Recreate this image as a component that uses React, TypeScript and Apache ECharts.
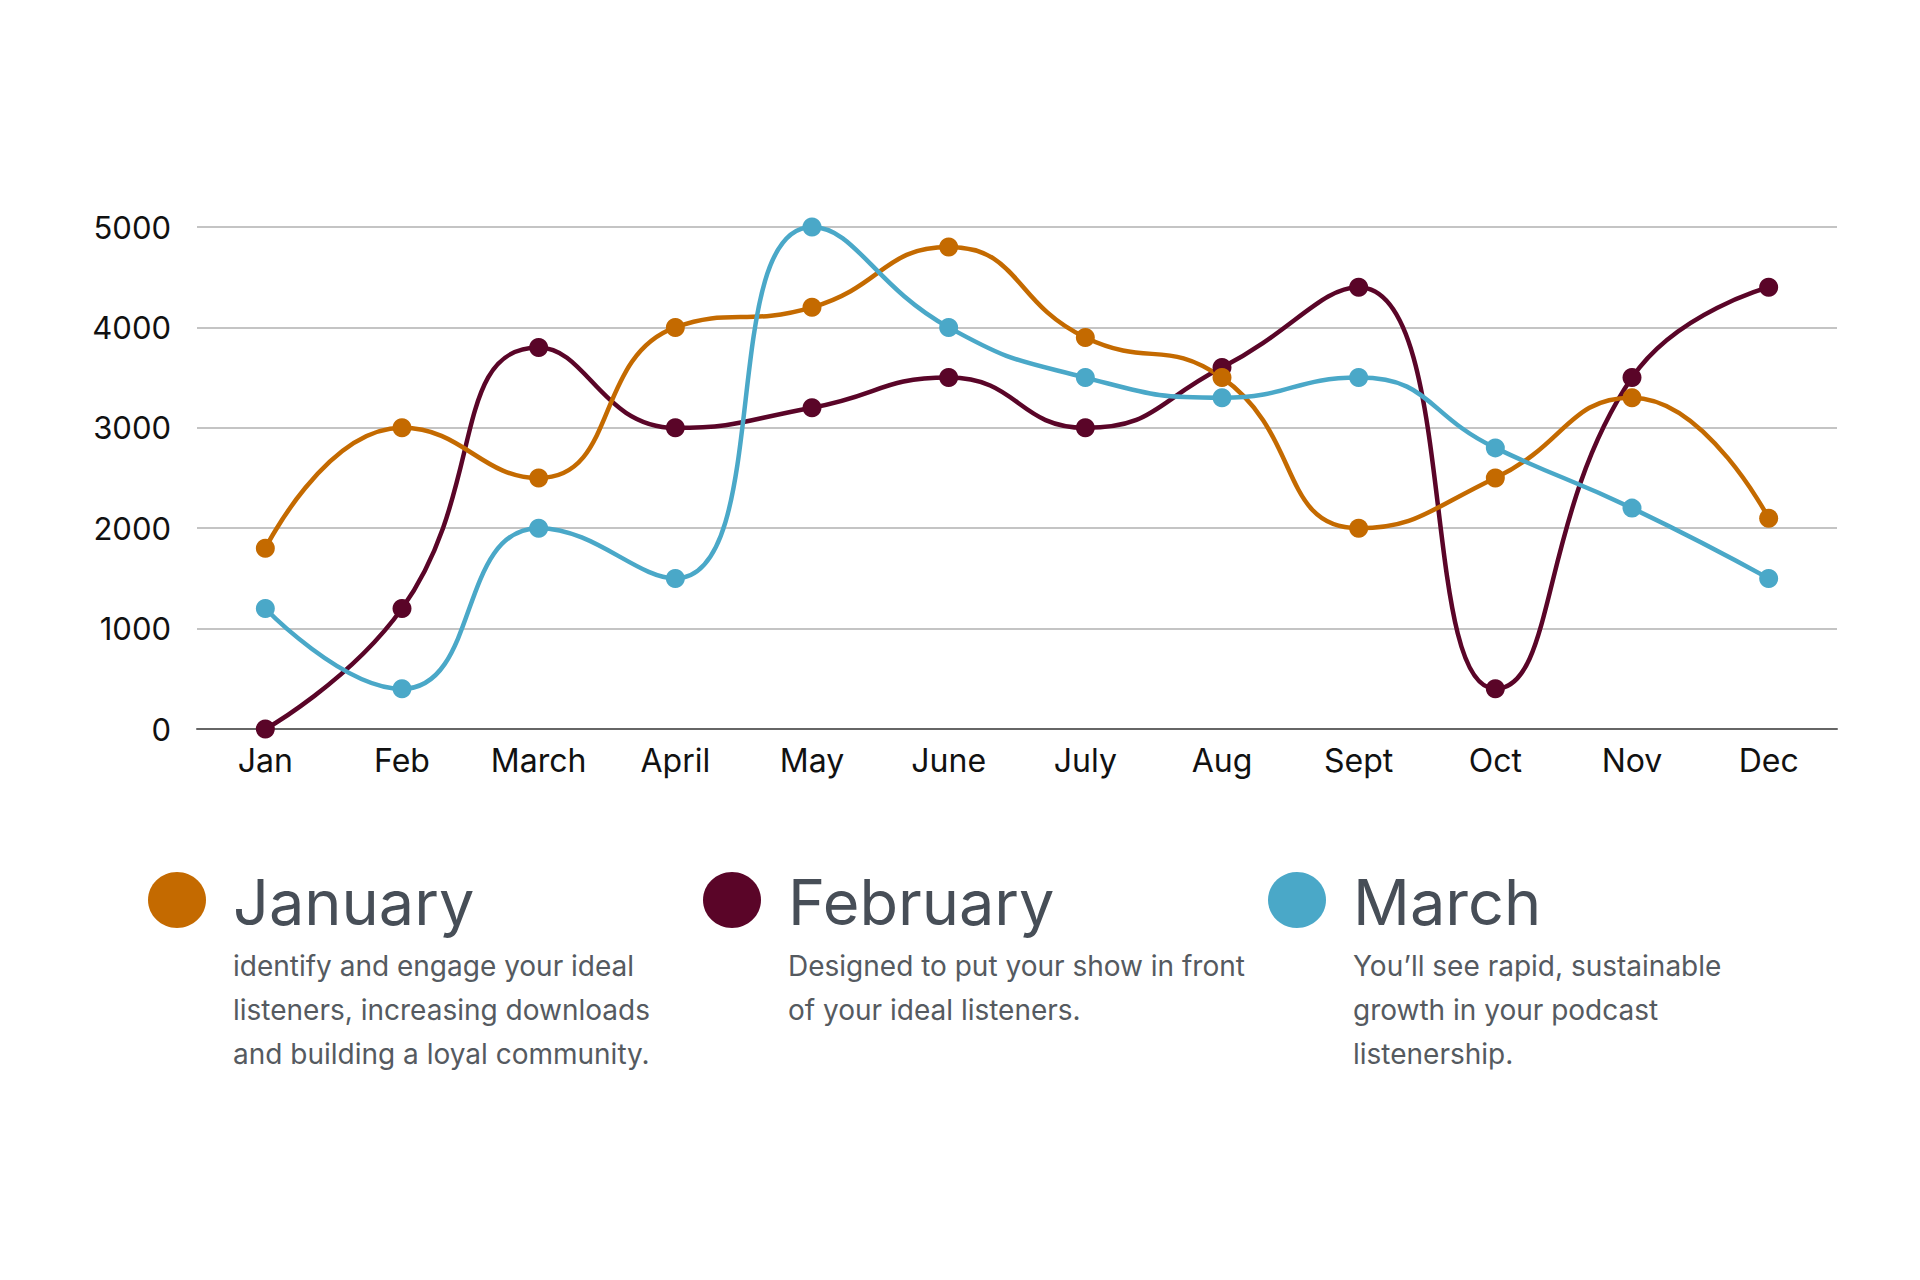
import React, { useEffect, useRef } from "react";
import * as echarts from "echarts";

const months = ["Jan", "Feb", "March", "April", "May", "June", "July", "Aug", "Sept", "Oct", "Nov", "Dec"];
const januaryValues = [1800, 3000, 2500, 4000, 4200, 4800, 3900, 3500, 2000, 2500, 3300, 2100];
const februaryValues = [0, 1200, 3800, 3000, 3200, 3500, 3000, 3600, 4400, 400, 3500, 4400];
const marchValues = [1200, 400, 2000, 1500, 5000, 4000, 3500, 3300, 3500, 2800, 2200, 1500];

const seriesNames = ["January", "February", "March"];
const seriesColors = ["#C46A00", "#5A0528", "#4AA8C8"];
const descriptions = [
  ["identify and engage your ideal", "listeners, increasing downloads", "and building a loyal community."],
  ["Designed to put your show in front", "of your ideal listeners."],
  ["You\u2019ll see rapid, sustainable", "growth in your podcast", "listenership."],
];

export default function App() {
  const ref = useRef<HTMLDivElement>(null);
  useEffect(() => {
    document.body.style.margin = "0";
    if (!ref.current) return;
    const chart = echarts.init(ref.current, undefined, { renderer: "svg" });
    const values = [januaryValues, februaryValues, marchValues];
    const order = [1, 0, 2];
    const legendX = [177, 732, 1297];
    const graphics: any[] = [];
    seriesNames.forEach((name, i) => {
      const cx = legendX[i];
      graphics.push({
        type: "ellipse",
        shape: { cx, cy: 900, rx: 29, ry: 28 },
        style: { fill: seriesColors[i] },
      });
      graphics.push({
        type: "text",
        x: cx + 56,
        y: 902,
        style: {
          text: name,
          fill: "#474E57",
          font: '63px Inter, "Noto Sans", sans-serif',
          verticalAlign: "middle",
          align: "left",
        },
      });
      descriptions[i].forEach((line, j) => {
        graphics.push({
          type: "text",
          x: cx + 56,
          y: 966 + j * 44,
          style: {
            text: line,
            fill: "#555A60",
            font: '28px Inter, "Noto Sans", sans-serif',
            verticalAlign: "middle",
            align: "left",
          },
        });
      });
    });
    chart.setOption({
      animation: false,
      backgroundColor: "#ffffff",
      textStyle: { fontFamily: 'Inter, "Noto Sans", sans-serif' },
      grid: { left: 197, right: 83, top: 227, bottom: 551, containLabel: false },
      xAxis: {
        type: "category",
        data: months,
        boundaryGap: true,
        axisLine: { show: true, lineStyle: { color: "#666666", width: 2 } },
        axisTick: { show: false },
        axisLabel: { color: "#111111", fontSize: 32, margin: 15, fontFamily: 'Inter, "Noto Sans", sans-serif' },
        splitLine: { show: false },
      },
      yAxis: {
        type: "value",
        min: 0,
        max: 5000,
        interval: 1000,
        axisLine: { show: false },
        axisTick: { show: false },
        axisLabel: {
          color: "#111111",
          fontSize: 31,
          margin: 26,
          fontFamily: 'Inter, "Noto Sans", sans-serif',
          formatter: (v: number) => String(v),
        },
        splitLine: { show: true, lineStyle: { color: "#C4C4C4", width: 2 } },
      },
      series: order.map((i) => ({
        name: seriesNames[i],
        type: "line",
        data: values[i],
        smooth: 0.5,
        symbol: "circle",
        symbolSize: 19,
        showSymbol: true,
        lineStyle: { color: seriesColors[i], width: 4.5 },
        itemStyle: { color: seriesColors[i] },
        z: 2,
      })),
      graphic: graphics,
    });
    return () => chart.dispose();
  }, []);
  return <div ref={ref} style={{ width: 1920, height: 1280 }} />;
}
